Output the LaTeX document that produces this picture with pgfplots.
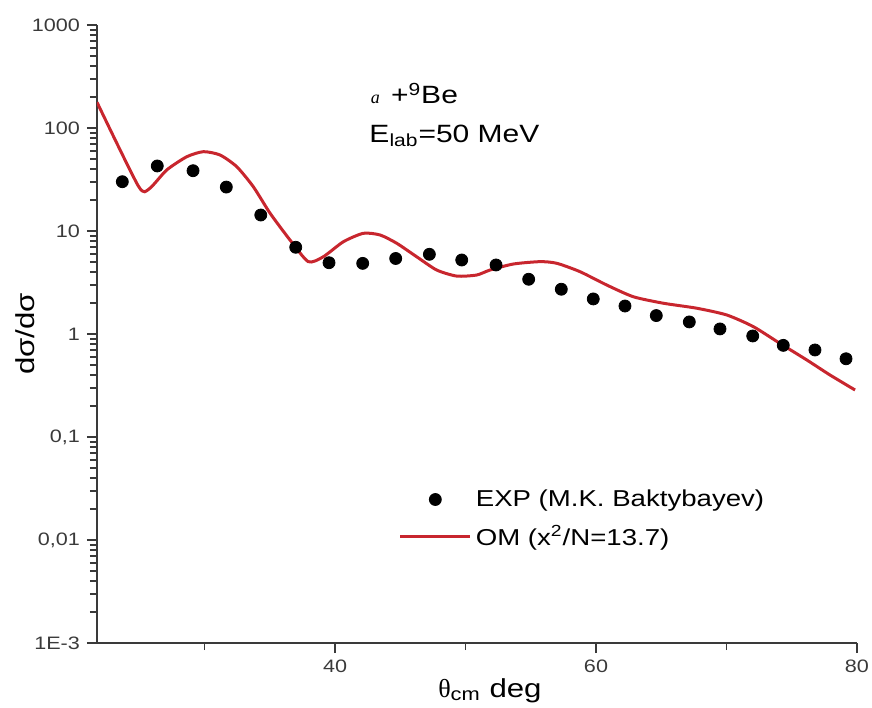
\documentclass[border=0pt]{standalone}
\usepackage{fontspec}
\setmainfont{Liberation Sans}[FakeStretch=1.2]
\newfontfamily\serif{Liberation Serif}
\usepackage{pgfplots}
\pgfplotsset{compat=1.18}
\definecolor{omred}{HTML}{C8262E}
\definecolor{axgray}{HTML}{3A3A3A}

\begin{document}
\begin{tikzpicture}
\begin{axis}[
  name=ax,
  scale only axis, width=380pt, height=309pt,
  ymode=log, xmin=21.76, xmax=80, ymin=1e-3, ymax=1000,
  axis lines*=left,
  axis line style={axgray, line width=1pt},
  tick align=outside,
  major tick length=5pt, minor tick length=3.5pt,
  tick style={axgray, line width=0.8pt},
  xtick={40,60,80}, minor xtick={30,50,70},
  ytick={1e-3,1e-2,0.1,1,10,100,1000},
  yticklabels={1E-3,{0,01},{0,1},1,10,100,1000},
  minor ytick={2e-3,3e-3,4e-3,5e-3,6e-3,7e-3,8e-3,9e-3,
    2e-2,3e-2,4e-2,5e-2,6e-2,7e-2,8e-2,9e-2,
    0.2,0.3,0.4,0.5,0.6,0.7,0.8,0.9,
    2,3,4,5,6,7,8,9,20,30,40,50,60,70,80,90,
    200,300,400,500,600,700,800,900},
  /pgf/number format/assume math mode=true,
  tick label style={font=\fontsize{9}{11}\selectfont, text=axgray},
  xlabel={{\serif θ}\textsubscript{cm} deg},
  xlabel style={font=\fontsize{13}{15}\selectfont, at={(axis description cs:0.517,0)}, anchor=base, yshift=-27pt},
  ylabel={dσ/dσ},
  ylabel style={font=\fontsize{13}{15}\selectfont, at={(axis description cs:-0.095,0.5)}, anchor=center},
  legend style={draw=none, fill=none, font=\fontsize{11.5}{13}\selectfont,
    at={(axis cs:44.4,0.016)}, anchor=west, row sep=4pt},
  legend cell align=left,
  legend image code/.code={\draw[mark repeat=2, mark phase=2, #1] plot coordinates {(0pt,0pt) (17.5pt,0pt) (35pt,0pt)};},
]
\addplot[only marks, mark=*, mark size=3pt, black] coordinates {
(23.70,30.1) (26.38,42.8) (29.12,38.5) (31.67,26.7) (34.31,14.3) (36.99,6.95)
(39.54,4.92) (42.12,4.85) (44.65,5.41) (47.23,5.94) (49.71,5.23) (52.34,4.68)
(54.84,3.40) (57.34,2.72) (59.79,2.19) (62.22,1.87) (64.62,1.51) (67.15,1.31)
(69.50,1.12) (72.01,0.957) (74.35,0.776) (76.78,0.70) (79.16,0.575)};
\addlegendentry{EXP (M.K. Baktybayev)}
\addplot[omred, line width=1.5pt, smooth, tension=0.4] coordinates {
(21.76,178) (24.93,27.3) (25.75,25.6) (27.10,39.1) (28.64,52.6) (29.91,58.9)
(31.19,54.7) (32.47,42.1) (33.74,26.9) (35.02,14.9) (36.55,8.18) (37.95,5.04)
(39.10,5.62) (40.64,7.87) (42.17,9.50) (43.45,9.15) (44.73,7.60) (46.26,5.62)
(47.79,4.18) (49.33,3.65) (50.86,3.74) (51.88,4.18) (53.66,4.78) (55.71,5.04)
(56.99,4.86) (58.77,4.03) (60.82,2.99) (62.86,2.30) (65.16,1.99) (67.72,1.78)
(70.02,1.53) (72.05,1.18) (74.10,0.81) (76.15,0.56) (77.93,0.40) (79.85,0.286)};
\addlegendentry{OM (x\textsuperscript{2}/N=13.7)}
\node[anchor=base west, font=\fontsize{12.5}{14}\selectfont] at (axis cs:42.2,172)
  {{\serif\itshape\fontsize{9}{10}\selectfont a}\hspace{0.45em}+\textsuperscript{9}Be};
\node[anchor=base west, font=\fontsize{12.5}{14}\selectfont] at (axis cs:42.1,73)
  {E\textsubscript{lab}=50 MeV};
\end{axis}
\pgfresetboundingbox
\path ([shift={(-48.5pt,-32pt)}]ax.south west) rectangle ([shift={(7.5pt,12.5pt)}]ax.north east);
\end{tikzpicture}
\end{document}
